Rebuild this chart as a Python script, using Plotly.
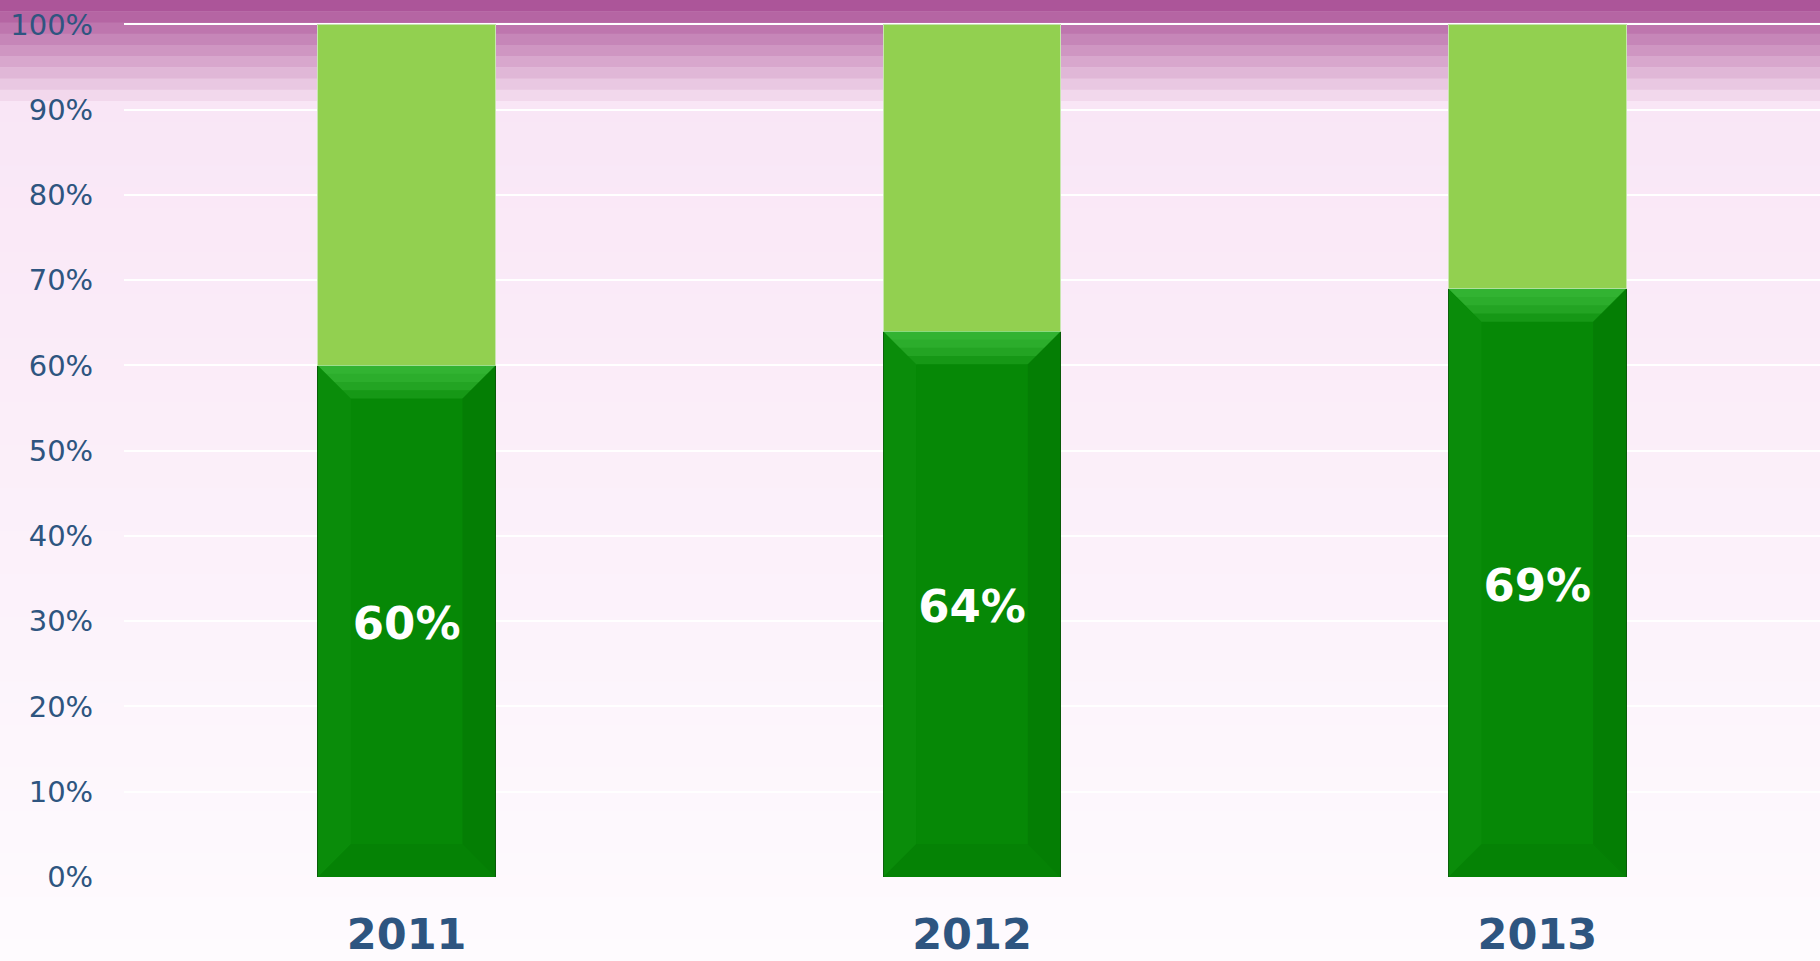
import plotly.graph_objects as go

years = ["2011", "2012", "2013"]
share = [60, 64, 69]
rest = [100 - v for v in share]
y_ticks = list(range(0, 101, 10))
y_tick_labels = [f"{v}%" for v in y_ticks]

W, H = 1820, 961
Y_MAX = 100.4
M_L, M_R, M_T, M_B = 124, 0, 21, 84
plot_h = H - M_T - M_B
BARGAP = 0.686


def px_to_paper(py):
    return (H - M_B - py) / plot_h


def lerp(c1, c2, t):
    return "#%02x%02x%02x" % tuple(round(a + (b - a) * t) for a, b in zip(c1, c2))


shapes = []
# stepped purple header band
top_c, bot_c = (0xAC, 0x55, 0x99), (0xF2, 0xD8, 0xEC)
n_top = 9
band_h = 101 / n_top
for i in range(n_top):
    shapes.append(dict(type="rect", xref="paper", yref="paper", x0=-0.1, x1=1.1,
                       y0=px_to_paper((i + 1) * band_h + 0.5), y1=px_to_paper(i * band_h),
                       fillcolor=lerp(top_c, bot_c, i / (n_top - 1)),
                       line=dict(width=0), layer="below"))
# soft pink fade to white
c1, c2 = (0xF9, 0xE6, 0xF6), (0xFE, 0xFB, 0xFE)
n_low = 40
start = 101
seg = (H - start) / n_low
for i in range(n_low):
    shapes.append(dict(type="rect", xref="paper", yref="paper", x0=-0.1, x1=1.1,
                       y0=px_to_paper(start + (i + 1) * seg + 0.5), y1=px_to_paper(start + i * seg),
                       fillcolor=lerp(c1, c2, i / (n_low - 1)),
                       line=dict(width=0), layer="below"))

# subtle bevel decoration on the dark green bars (derived from the data values)
hw = (1 - BARGAP) / 2
bx = 33 / 566.5
by = 33 / (plot_h / Y_MAX)
for i, v in enumerate(share):
    l, r = i - hw, i + hw
    for k, a in enumerate([0.22, 0.22, 0.2, 0.18]):
        f = (4 - k) / 4
        shapes.append(dict(type="path", xref="x", yref="y", layer="above", line=dict(width=0),
                           fillcolor=f"rgba(80,210,80,{a})",
                           path=f"M{l},{v} L{r},{v} L{r - bx * f},{v - by * f} L{l + bx * f},{v - by * f} Z"))
    shapes.append(dict(type="path", xref="x", yref="y", layer="above", line=dict(width=0),
                       fillcolor="rgba(0,80,0,0.17)",
                       path=f"M{r},{v} L{r},0 L{r - bx},{by} L{r - bx},{v - by} Z"))
    shapes.append(dict(type="path", xref="x", yref="y", layer="above", line=dict(width=0),
                       fillcolor="rgba(60,190,60,0.09)",
                       path=f"M{l},{v} L{l},0 L{l + bx},{by} L{l + bx},{v - by} Z"))
    shapes.append(dict(type="path", xref="x", yref="y", layer="above", line=dict(width=0),
                       fillcolor="rgba(0,80,0,0.1)",
                       path=f"M{l},0 L{r},0 L{r - bx},{by} L{l + bx},{by} Z"))

fig = go.Figure()
fig.add_trace(go.Bar(
    x=years, y=share,
    marker=dict(color="#068806", line=dict(color="#0A5E0A", width=1)),
    hoverinfo="skip",
))
fig.add_trace(go.Bar(
    x=years, y=rest,
    marker=dict(color="#92D050", line=dict(color="#C8E6B0", width=1)),
    hoverinfo="skip",
))
fig.add_trace(go.Scatter(
    x=years, y=[v / 2 - 0.8 for v in share], mode="text",
    text=[f"{v}%" for v in share],
    textfont=dict(family="DejaVu Sans", size=45, color="white", weight="bold"),
    hoverinfo="skip",
))

fig.update_layout(
    width=W, height=H,
    margin=dict(l=M_L, r=M_R, t=M_T, b=M_B),
    barmode="stack", bargap=BARGAP,
    showlegend=False,
    paper_bgcolor="rgba(0,0,0,0)",
    plot_bgcolor="rgba(0,0,0,0)",
    shapes=shapes,
    font=dict(family="DejaVu Sans"),
)
fig.update_yaxes(
    range=[0, Y_MAX], tickvals=y_ticks, ticktext=y_tick_labels,
    showgrid=True, gridcolor="white", gridwidth=2,
    zeroline=False, showline=False, automargin=False,
    ticks="outside", ticklen=24, tickcolor="rgba(0,0,0,0)",
    tickfont=dict(family="DejaVu Sans", size=29, color="#2E5580"),
)
fig.update_xaxes(
    showgrid=False, showline=False, zeroline=False, automargin=False,
    ticks="outside", ticklen=19, tickcolor="rgba(0,0,0,0)",
    tickfont=dict(family="DejaVu Sans", size=43, color="#2E5580", weight="bold"),
)

fig.write_html(
    "out.html",
    config={"displayModeBar": False},
    post_script="document.body.style.margin='0';document.body.style.overflow='hidden';",
)
